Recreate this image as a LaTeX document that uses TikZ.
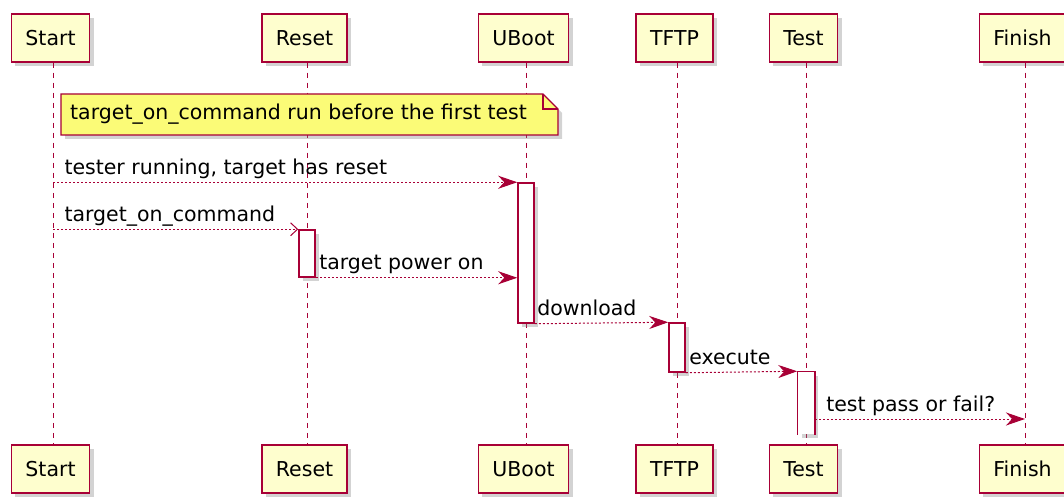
\documentclass[tikz,border=0pt]{standalone}
\usepackage{fontspec}
\setmainfont{DejaVu Sans}
\usetikzlibrary{arrows.meta,%
		shadows,%
		positioning}
\definecolor{umlred}{HTML}{A80036}
\definecolor{umlbox}{HTML}{FEFECE}
\definecolor{umlnote}{HTML}{FBFB77}
\tikzset{
	umlfont/.style={font=\fontsize{20.5}{24}\selectfont},
	umlshadow/.style={drop shadow={shadow xshift=4pt,shadow yshift=-4pt,opacity=.35}},
	part/.style={draw=umlred,line width=1.5pt,fill=umlbox,minimum height=48pt,inner xsep=14pt,umlfont,umlshadow},
	life/.style={umlred,line width=1pt,dash pattern=on 5pt off 5pt},
	act/.style={draw=umlred,line width=1.5pt,fill=white,minimum width=16pt,inner sep=0pt,umlshadow},
	notebox/.style={draw=umlred,line width=1.2pt,fill=umlnote,umlshadow},
	msg/.style={umlred,line width=1pt,dash pattern=on 2pt off 2pt,-{Stealth[length=19pt,width=13pt,inset=6pt]}},
	msgopen/.style={umlred,line width=1pt,dash pattern=on 2pt off 2pt,-{Straight Barb[length=7pt,width=13pt,line width=1pt]}},
	lbl/.style={anchor=base west,inner sep=0pt,text=black,umlfont}
}
\begin{document}
\begin{tikzpicture}[x=1pt,y=-1pt]
%sequenza di avvio del test
\useasboundingbox (0,0) rectangle (1064,497);
\foreach \nm/\x/\txt in {start/50.5/Start,reset/304.5/Reset,uboot/523.5/UBoot,tftp/674.5/TFTP,test/803.5/Test,finish/1022.5/Finish}{
	\node[part] (\nm-top) at (\x,38) {\txt};
	\node[part] (\nm-bot) at (\x,469) {\txt};
	\draw[life] ([xshift=2.5pt]\nm-top.south) -- ([xshift=2.5pt]\nm-bot.north);
}
%nota
\draw[notebox] (61,94) -- (543,94) -- (558,109) -- (558,135) -- (61,135) -- cycle;
\draw[umlred,line width=1.2pt] (543,94) -- (543,109) -- (558,109);
\node[anchor=west,inner sep=0pt,umlfont] (note) at (70,114.5) {target\_on\_command run before the first test};
%attivazioni
\node[act,minimum height=140pt] (ubootAct) at (526,253) {};
\node[act,minimum height=47pt] (resetAct) at (307,253.5) {};
\node[act,minimum height=49pt] (tftpAct) at (677,347.5) {};
\node[act,draw=none,minimum height=62pt] (testAct) at (806,403) {};
\draw[umlred,line width=1.5pt] (testAct.south west) -- (testAct.north west) -- (testAct.north east) -- (testAct.south east);
\coordinate (finishIn) at ([xshift=2.5pt]finish-top.south |- 0,419);
%messaggi
\draw[msg] ([xshift=2.5pt]start-top.south |- ubootAct.north) -- (ubootAct.north west)
	node[lbl,pos=0,xshift=11pt,yshift=8pt] {tester running, target has reset};
\draw[msgopen] ([xshift=2.5pt]start-top.south |- resetAct.north) -- (resetAct.north west)
	node[lbl,pos=0,xshift=11pt,yshift=8pt] {target\_on\_command};
\draw[msg] (resetAct.south east) -- (resetAct.south -| ubootAct.west)
	node[lbl,pos=0,xshift=3pt,yshift=8pt] {target power on};
\draw[msg] (ubootAct.south east) -- (tftpAct.north west)
	node[lbl,pos=0,xshift=2pt,yshift=8pt] {download};
\draw[msg] (tftpAct.south east) -- (testAct.north west)
	node[lbl,pos=0,xshift=3pt,yshift=8pt] {execute};
\draw[msg] (finishIn -| testAct.east) -- (finishIn)
	node[lbl,pos=0,xshift=11pt,yshift=8pt] {test pass or fail?};
\end{tikzpicture}
\end{document}
